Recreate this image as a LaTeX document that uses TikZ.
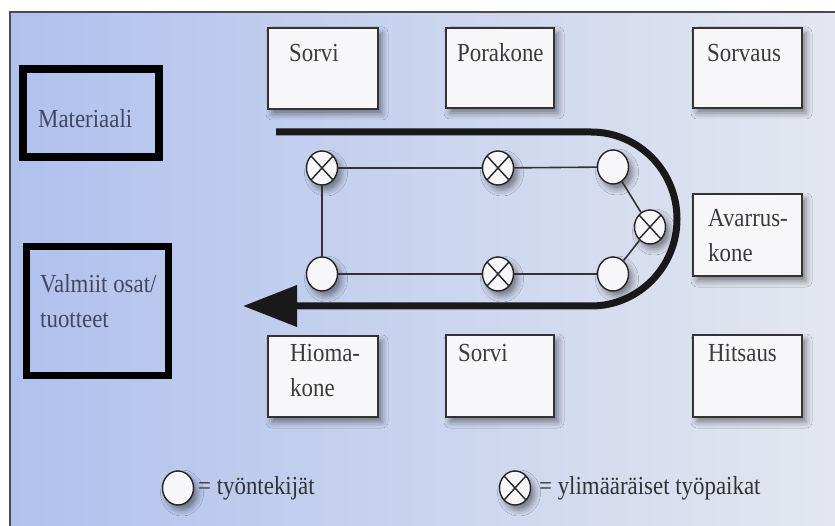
\documentclass[tikz,border=0pt]{standalone}
\usepackage{fontspec}
\setmainfont{Liberation Serif}[FakeStretch=0.88]
\usetikzlibrary{shapes.geometric,shadows.blur,arrows.meta}
\definecolor{bgl}{RGB}{176,193,238}
\definecolor{bgr}{RGB}{228,231,239}
\definecolor{ink}{RGB}{58,58,64}
\definecolor{inkb}{RGB}{66,72,98}
\definecolor{paper}{RGB}{247,247,250}
\begin{document}
\begin{tikzpicture}[x=1pt,y=-1pt,
  soft/.style={blur shadow={shadow xshift=4pt,shadow yshift=-5pt,shadow blur radius=6pt,shadow opacity=45}},
  machine/.style={draw=black!80,line width=1.6pt,fill=paper,soft,inner sep=0pt},
  stock/.style={draw=black,line width=7.5pt,inner sep=0pt},
  lbl/.style={anchor=base west,inner sep=0pt,text=ink,align=left,font=\fontsize{26}{35}\selectfont},
  worker/.style={ellipse,draw=black!85,line width=1.4pt,fill=paper,soft,minimum width=31pt,minimum height=34pt,inner sep=0pt},
  spare/.style={worker,path picture={\draw[black!85,line width=1.4pt]
      (path picture bounding box.north west)--(path picture bounding box.south east)
      (path picture bounding box.south west)--(path picture bounding box.north east);}},
  link/.style={draw=black!80,line width=1.6pt},
  flow/.style={line width=7pt,black!90,-{Triangle[length=54pt,width=40pt]}},
  legend/.style={anchor=base west,inner sep=0pt,text=black!80,font=\fontsize{26}{35}\selectfont}]
\useasboundingbox (0,0) rectangle (835,526);
\fill[white] (0,0) rectangle (835,526);
\shade[left color=bgl,right color=bgr] (10,12) rectangle (835,526);
\draw[line width=1.5pt,black!70] (10,526) -- (10,12) -- (835,12);

% input and output stores
\node[stock,minimum width=136pt,minimum height=88pt] (mat) at (91,113) {};
\node[lbl,text=inkb] (matl) at (38,128) {Materiaali};
\node[stock,minimum width=142pt,minimum height=129pt] (valm) at (97.5,311) {};
\node[lbl,text=inkb] (valml) at (40,328) {Valmiit osat/\\tuotteet};

% machines
\node[machine,minimum width=110pt,minimum height=81pt] (sorviA) at (323,68.5) {};
\node[machine,minimum width=108pt,minimum height=80pt] (pora) at (500,68) {};
\node[machine,minimum width=109pt,minimum height=80pt] (sorvaus) at (747.5,68) {};
\node[machine,minimum width=109pt,minimum height=82pt] (avarrus) at (747.5,235) {};
\node[machine,minimum width=110pt,minimum height=81pt] (hioma) at (323,376.5) {};
\node[machine,minimum width=108pt,minimum height=82pt] (sorviB) at (500,376) {};
\node[machine,minimum width=109pt,minimum height=82pt] (hitsaus) at (747.5,376) {};
\node[lbl] (sorviAl) at (289,62) {Sorvi};
\node[lbl] (poral) at (457,62) {Porakone};
\node[lbl] (sorvausl) at (707,62) {Sorvaus};
\node[lbl] (avarrusl) at (708,262) {Avarrus-\\kone};
\node[lbl] (hiomal) at (290,396) {Hioma-\\kone};
\node[lbl] (sorviBl) at (458,362) {Sorvi};
\node[lbl] (hitsausl) at (708,362) {Hitsaus};

% material flow
\coordinate (fs) at (276,132);
\coordinate (ft) at (243,306);
\draw[flow] (fs) -- (591,132) arc[start angle=-90,end angle=90,x radius=86,y radius=87] -- (ft);

% cell with workers and extra work places
\node[spare] (x1) at (322,168) {};
\node[spare] (x2) at (498,168) {};
\node[worker] (o1) at (613,167) {};
\node[spare] (x3) at (650,227) {};
\node[worker] (o2) at (613,274) {};
\node[spare] (x4) at (498,274) {};
\node[worker] (o3) at (322,274) {};
\draw[link] (x1) -- (x2) -- (o1) -- (x3) -- (o2) -- (x4) -- (o3) -- (x1);

% legend
\node[worker] (lo) at (178,488) {};
\node[legend] (lot) at (198,494) {= työntekijät};
\node[spare] (lx) at (515,488) {};
\node[legend] (lxt) at (539,494) {= ylimääräiset työpaikat};
\end{tikzpicture}
\end{document}
